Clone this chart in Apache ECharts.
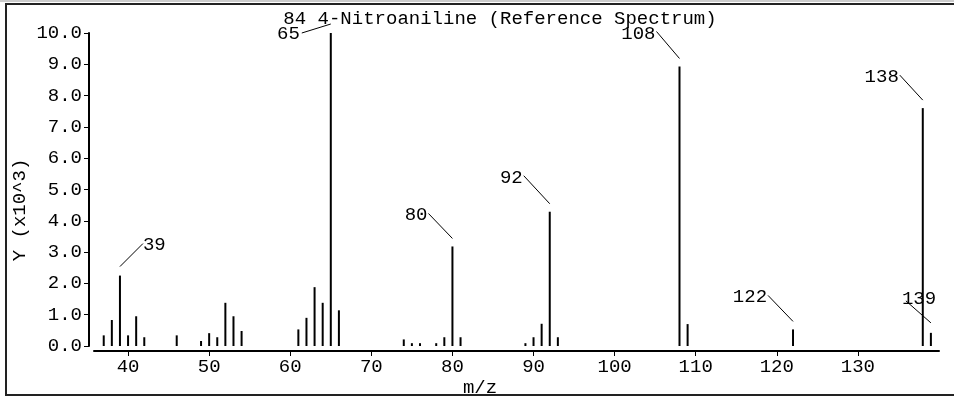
<!DOCTYPE html>
<html>
<head>
<meta charset="utf-8">
<script src="https://cdn.jsdelivr.net/npm/echarts@6/dist/echarts.min.js"></script>
<style>
html,body{margin:0;padding:0;background:#fff;}
#chart{width:954px;height:396px;}
</style>
</head>
<body>
<div id="chart"></div>
<script>
// ---- data ----
const mz = [37,38,39,40,41,42,46,49,50,51,52,53,54,61,62,63,64,65,66,74,75,76,78,79,80,81,89,90,91,92,93,108,109,122,138,139];
const intensity = [0.34,0.83,2.25,0.34,0.95,0.28,0.34,0.16,0.41,0.28,1.38,0.95,0.48,0.53,0.90,1.88,1.38,10.0,1.14,0.21,0.09,0.09,0.09,0.28,3.18,0.28,0.09,0.28,0.71,4.29,0.28,8.93,0.70,0.53,7.60,0.42];
const labeledPeaks = [39,65,80,92,108,122,138,139];
const xTicks = [40,50,60,70,80,90,100,110,120,130];
const titleText = '84 4-Nitroaniline (Reference Spectrum)';
const xName = 'm/z';
const yName = 'Y (x10^3)';

// ---- styles ----
const FONT = '19px "Liberation Mono", "DejaVu Sans Mono", monospace';
const FAM = '"Liberation Mono", "DejaVu Sans Mono", monospace';
const defLeader = {gap:8, dx:-24, dy:-25, tx:-1, ty:2, align:'right'};
const leader = {
  39:{gap:9, dx:23, dy:-23, tx:0, ty:1, align:'left'},
  65:{gap:9, dx:-29, dy:9, tx:-2, ty:1, align:'right'},
  92:{gap:8, dx:-26, dy:-28, tx:-1, ty:2, align:'right'},
  108:{gap:8, dx:-23, dy:-27, tx:-1, ty:2, align:'right'},
  122:{gap:8, dx:-25, dy:-26, tx:-1, ty:2, align:'right'},
  138:{gap:8, dx:-23, dy:-25, tx:-1, ty:2, align:'right'},
  139:{gap:10, dx:-25, dy:-22, tx:-4, ty:-1.5, align:'left'}
};

const barData = mz.map((m,i)=>[m, intensity[i]]);
const labelData = labeledPeaks.map(m=>[m, intensity[mz.indexOf(m)]]);

const chart = echarts.init(document.getElementById('chart'), null, {renderer:'canvas'});
chart.setOption({
  backgroundColor:'#fff',
  animation:false,
  grid:{left:94, right:15, top:33, bottom:50, containLabel:false},
  xAxis:{
    type:'value', min:35.8, max:140, offset:5, position:'bottom',
    axisLine:{show:true, onZero:false, lineStyle:{color:'#000', width:2}},
    axisTick:{show:true, length:5, customValues:xTicks, lineStyle:{color:'#000', width:1}},
    axisLabel:{show:true, customValues:xTicks, margin:6, color:'#000', fontFamily:FAM, fontSize:19},
    splitLine:{show:false}
  },
  yAxis:{
    type:'value', min:0, max:10, interval:1, offset:5, position:'left',
    axisLine:{show:true, onZero:false, lineStyle:{color:'#000', width:2}},
    axisTick:{show:true, length:5, lineStyle:{color:'#000', width:1}},
    axisLabel:{show:true, margin:7, color:'#000', fontFamily:FAM, fontSize:19, formatter:v=>v.toFixed(1)},
    splitLine:{show:false}
  },
  series:[
    {type:'bar', data:barData, barWidth:2, itemStyle:{color:'#000'}, silent:true},
    {type:'custom', data:labelData, clip:false, silent:true,
     renderItem:function(params, api){
       const m = api.value(0), v = api.value(1);
       const p = api.coord([m, v]);
       const c = leader[m] || defLeader;
       const ax = p[0], ay = p[1] - c.gap;
       const ex = ax + c.dx, ey = ay + c.dy;
       return {type:'group', children:[
         {type:'line', shape:{x1:ax, y1:ay, x2:ex, y2:ey}, style:{stroke:'#000', lineWidth:1}},
         {type:'text', x:ex + c.tx, y:ey + c.ty, style:{text:String(m), font:FONT, fill:'#000', align:c.align, verticalAlign:'middle'}}
       ]};
     }}
  ],
  graphic:[
    {type:'line', shape:{x1:0, y1:1, x2:954, y2:1}, style:{stroke:'#999', lineWidth:1}},
    {type:'rect', shape:{x:6, y:4, width:960, height:391}, style:{fill:null, stroke:'#222', lineWidth:2}},
    {type:'text', x:500, y:19, style:{text:titleText, font:FONT, fill:'#000', align:'center', verticalAlign:'middle'}},
    {type:'text', x:480, y:388, style:{text:xName, font:FONT, fill:'#000', align:'center', verticalAlign:'middle'}},
    {type:'text', x:20, y:210, rotation:Math.PI/2, style:{text:yName, font:FONT, fill:'#000', align:'center', verticalAlign:'middle'}}
  ]
});
</script>
</body>
</html>
